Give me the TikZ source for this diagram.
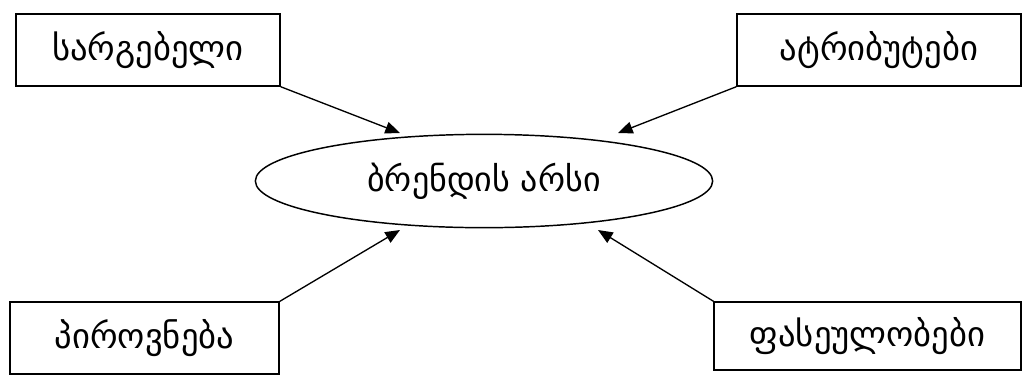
\documentclass[tikz,border=0pt]{standalone}
\usepackage{fontspec}
\newfontfamily\geofont{DejaVu Sans}
\usetikzlibrary{arrows.meta,shapes.geometric}

\begin{document}
\begin{tikzpicture}[x=0.75pt,y=-0.75pt,
  box/.style={draw,line width=1.1pt,font=\geofont\fontsize{26}{30}\selectfont,
    minimum height=54pt,inner sep=0pt},
  core/.style={draw,ellipse,line width=1.1pt,font=\geofont\fontsize{25.5}{30}\selectfont,
    minimum width=343pt,minimum height=70pt,inner sep=0pt},
  arr/.style={-{Triangle[length=11pt,width=9pt]},line width=1pt}]
  \useasboundingbox (0,0) rectangle (1023,376);
  \node[core] (essence) at (484,181) {ბრენდის არსი};
  \node[box,minimum width=198pt] (benefit) at (148,50) {სარგებელი};
  \node[box,minimum width=213pt] (attrib) at (879,50) {ატრიბუტები};
  \node[box,minimum width=202pt] (person) at (144.5,338) {პიროვნება};
  \node[box,minimum width=230pt,minimum height=51pt] (values) at (867.5,336) {ფასეულობები};
  % arrow tips near the ellipse
  \coordinate (tipA) at (400,133);
  \coordinate (tipB) at (618,133);
  \coordinate (tipC) at (400,230);
  \coordinate (tipD) at (598,230);
  \draw[arr] (benefit.south east) -- (tipA);
  \draw[arr] (attrib.south west) -- (tipB);
  \draw[arr] (person.north east) -- (tipC);
  \draw[arr] (values.north west) -- (tipD);
\end{tikzpicture}
\end{document}
